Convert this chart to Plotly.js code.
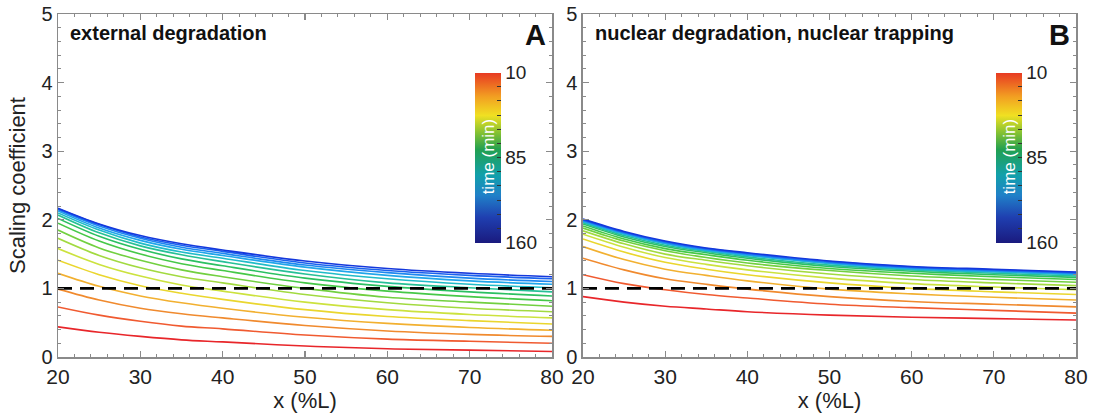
<!DOCTYPE html>
<html><head><meta charset="utf-8">
<script src="https://cdn.plot.ly/plotly-3.0.1.min.js"></script>
<style>html,body{margin:0;padding:0;background:#fff}</style>
</head><body><div id="chart" style="width:1095px;height:416px"></div>
<script>
// positions along the embryo (%L) where curves were read
const xPos = [20, 25, 30, 35, 40, 50, 60, 70, 80];
// time (min) of each curve
const times = [10, 20, 30, 40, 50, 60, 70, 80, 90, 100, 110, 120, 130, 140, 150, 160];

// Panel A: external degradation
const curvesA = [
  [0.44, 0.36, 0.30, 0.25, 0.22, 0.16, 0.12, 0.10, 0.08],
  [0.73, 0.61, 0.52, 0.45, 0.41, 0.32, 0.26, 0.23, 0.20],
  [0.99, 0.83, 0.71, 0.63, 0.57, 0.46, 0.38, 0.33, 0.30],
  [1.22, 1.03, 0.89, 0.79, 0.71, 0.58, 0.49, 0.43, 0.39],
  [1.41, 1.20, 1.04, 0.93, 0.84, 0.69, 0.59, 0.53, 0.48],
  [1.58, 1.35, 1.18, 1.05, 0.96, 0.80, 0.69, 0.62, 0.57],
  [1.73, 1.48, 1.30, 1.17, 1.08, 0.91, 0.79, 0.71, 0.66],
  [1.85, 1.59, 1.41, 1.27, 1.17, 1.00, 0.87, 0.80, 0.74],
  [1.95, 1.69, 1.50, 1.36, 1.26, 1.08, 0.96, 0.88, 0.82],
  [2.02, 1.76, 1.57, 1.43, 1.33, 1.15, 1.03, 0.95, 0.89],
  [2.07, 1.81, 1.62, 1.49, 1.39, 1.21, 1.08, 1.01, 0.95],
  [2.10, 1.85, 1.66, 1.53, 1.44, 1.26, 1.14, 1.06, 1.01],
  [2.13, 1.88, 1.70, 1.57, 1.48, 1.31, 1.19, 1.11, 1.06],
  [2.15, 1.91, 1.73, 1.60, 1.51, 1.34, 1.23, 1.15, 1.10],
  [2.16, 1.93, 1.75, 1.63, 1.54, 1.37, 1.26, 1.19, 1.14],
  [2.17, 1.94, 1.77, 1.65, 1.56, 1.40, 1.29, 1.22, 1.17]
];

// Panel B: nuclear degradation, nuclear trapping
const curvesB = [
  [0.88, 0.80, 0.74, 0.70, 0.66, 0.61, 0.58, 0.56, 0.54],
  [1.20, 1.07, 0.98, 0.91, 0.86, 0.77, 0.72, 0.68, 0.64],
  [1.44, 1.27, 1.14, 1.06, 0.99, 0.88, 0.81, 0.77, 0.73],
  [1.61, 1.42, 1.28, 1.19, 1.11, 0.99, 0.92, 0.87, 0.83],
  [1.72, 1.53, 1.38, 1.28, 1.20, 1.08, 1.00, 0.95, 0.91],
  [1.79, 1.60, 1.45, 1.35, 1.27, 1.15, 1.07, 1.02, 0.98],
  [1.84, 1.65, 1.50, 1.41, 1.33, 1.21, 1.13, 1.08, 1.04],
  [1.88, 1.69, 1.55, 1.45, 1.37, 1.26, 1.18, 1.13, 1.09],
  [1.91, 1.72, 1.58, 1.49, 1.41, 1.29, 1.22, 1.17, 1.13],
  [1.94, 1.75, 1.61, 1.52, 1.44, 1.32, 1.25, 1.20, 1.16],
  [1.96, 1.77, 1.63, 1.54, 1.46, 1.34, 1.27, 1.22, 1.18],
  [1.97, 1.79, 1.65, 1.55, 1.48, 1.36, 1.28, 1.24, 1.20],
  [1.98, 1.80, 1.66, 1.56, 1.49, 1.37, 1.29, 1.25, 1.21],
  [1.99, 1.81, 1.67, 1.57, 1.50, 1.38, 1.30, 1.26, 1.22],
  [2.00, 1.82, 1.68, 1.58, 1.51, 1.39, 1.31, 1.27, 1.23],
  [2.01, 1.83, 1.69, 1.59, 1.52, 1.40, 1.32, 1.28, 1.24]
];

const refLevel = 1;
const cbTickTimes = [10, 85, 160];
const panelLabels = ["external degradation", "nuclear degradation, nuclear trapping"];
const panelLetters = ["A", "B"];

const lineColors = ["#e8262a", "#f05a30", "#f08a2e", "#f2b030", "#ead62e", "#cce23e",
  "#a2da40", "#72d040", "#46c848", "#2cc062", "#26c096", "#20bcc8", "#20a6ea",
  "#1e88f0", "#1a62ee", "#1438dc"];

const cbScale = [[0, "#1a1a7e"], [0.15, "#1f3fb0"], [0.28, "#2080c8"], [0.4, "#12a0aa"],
  [0.55, "#22a050"], [0.65, "#86c232"], [0.75, "#f0e022"], [0.86, "#f2a022"], [1, "#e83a22"]];

const traces = [];
function addPanel(curves, xa, ya) {
  curves.forEach((yv, i) => {
    traces.push({
      type: "scatter", mode: "lines", x: xPos, y: yv, xaxis: xa, yaxis: ya,
      line: {color: lineColors[i], width: 1.6, shape: "spline", smoothing: 1},
      hoverinfo: "skip", showlegend: false, name: times[i] + " min"
    });
  });
  traces.push({
    type: "scatter", mode: "lines", x: [xPos[0], xPos[xPos.length - 1]], y: [refLevel, refLevel],
    xaxis: xa, yaxis: ya, line: {color: "#000", width: 2.6, dash: "14px,8px"},
    hoverinfo: "skip", showlegend: false
  });
}
addPanel(curvesA, "x", "y");
addPanel(curvesB, "x2", "y2");

// colorbars (time axis reversed: 10 on top)
const cbTickVals = [];
const cbTickText = [];
for (let k = 0; k <= 12; k++) {
  const t = 10 + k * 12.5;
  cbTickVals.push(-t);
  cbTickText.push(cbTickTimes.includes(t) ? String(t) : "");
}
function addBar(xa, ya, px) {
  traces.push({
    type: "scatter", mode: "markers", x: [null], y: [null], xaxis: xa, yaxis: ya,
    hoverinfo: "skip", showlegend: false,
    marker: {
      color: times.map(t => -t), cmin: -times[times.length - 1], cmax: -times[0],
      colorscale: cbScale, showscale: true, size: 0,
      colorbar: {
        x: px, xanchor: "left", xref: "paper", y: 0.5816, yanchor: "middle", yref: "paper",
        thickness: 26, thicknessmode: "pixels", len: 170, lenmode: "pixels",
        xpad: 0, ypad: 0, outlinewidth: 0,
        tickmode: "array", tickvals: cbTickVals, ticktext: cbTickText,
        ticks: "inside", ticklen: 4, tickcolor: "#333", tickwidth: 1,
        tickfont: {family: "Liberation Sans, Arial, sans-serif", size: 19, color: "#222"}
      }
    }
  });
}
addBar("x", "y", 0.4096);
addBar("x2", "y2", 0.9214);

const font = {family: "Liberation Sans, Arial, sans-serif", size: 20, color: "#222"};
function xax(domain, anchor) {
  return {
    domain: domain, anchor: anchor, range: [20, 80], dtick: 10, tick0: 20,
    showgrid: false, zeroline: false, showline: true, linecolor: "#8a8a8a", linewidth: 1.5,
    mirror: "allticks", ticks: "inside", ticklen: 6, tickcolor: "#8a8a8a", tickwidth: 1.2,
    minor: {dtick: 2, ticks: "inside", ticklen: 3, tickcolor: "#8a8a8a", tickwidth: 1},
    tickfont: {family: font.family, size: 21, color: "#222"},
    title: {text: "x (%L)", font: {family: font.family, size: 22, color: "#222"}, standoff: 0}
  };
}
function yax(anchor, title) {
  return {
    anchor: anchor, range: [0, 5], dtick: 1,
    showgrid: false, zeroline: false, showline: true, linecolor: "#8a8a8a", linewidth: 1.5,
    mirror: "allticks", ticks: "inside", ticklen: 6, tickcolor: "#8a8a8a", tickwidth: 1.2,
    minor: {dtick: 0.2, ticks: "inside", ticklen: 3, tickcolor: "#8a8a8a", tickwidth: 1},
    tickfont: {family: font.family, size: 20, color: "#222"},
    title: {text: title, font: {family: font.family, size: 22, color: "#222"}, standoff: 9}
  };
}

const annotations = [];
[["x", "y"], ["x2", "y2"]].forEach((ax, i) => {
  annotations.push({
    xref: ax[0] + " domain", yref: ax[1] + " domain", x: 0.02, y: 0.945,
    xanchor: "left", yanchor: "middle", showarrow: false, text: "<b>" + panelLabels[i] + "</b>",
    font: {family: font.family, size: 20, color: "#111"}
  });
  annotations.push({
    xref: ax[0] + " domain", yref: ax[1] + " domain", x: 0.992, y: 0.94,
    xanchor: "right", yanchor: "middle", showarrow: false, text: "<b>" + panelLetters[i] + "</b>",
    font: {family: font.family, size: 29, color: "#111"}
  });
});
[0.4224, 0.9342].forEach(px => {
  annotations.push({
    xref: "paper", yref: "paper", x: px, y: 0.585, xanchor: "center", yanchor: "middle",
    showarrow: false, textangle: -90, text: "time (min)",
    font: {family: font.family, size: 17, color: "#fff"}
  });
});

const layout = {
  width: 1095, height: 416,
  margin: {l: 58, r: 19, t: 14, b: 59},
  paper_bgcolor: "#fff", plot_bgcolor: "#fff",
  font: font, showlegend: false,
  xaxis: xax([0, 0.4853], "y"),
  yaxis: yax("x", "Scaling coefficient"),
  xaxis2: xax([0.5157, 1], "y2"),
  yaxis2: yax("x2", ""),
  annotations: annotations
};

Plotly.newPlot("chart", traces, layout, {displayModeBar: false, staticPlot: true});
</script>
</body></html>
